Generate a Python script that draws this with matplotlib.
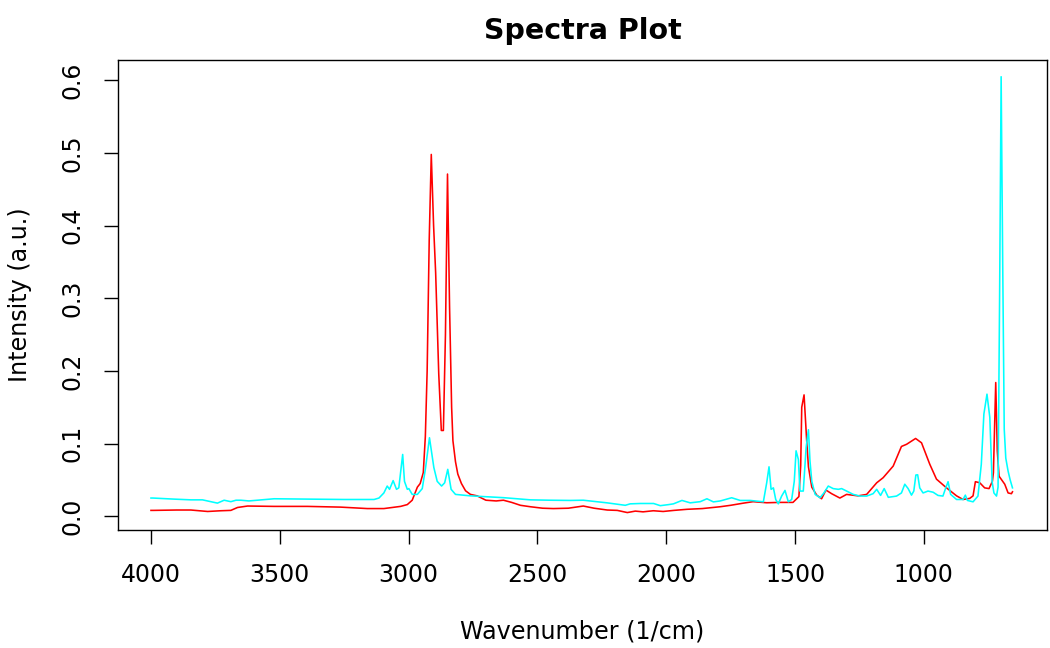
import matplotlib
matplotlib.use("Agg")
import matplotlib.pyplot as plt
import numpy as np

# Spectrum 1 (red)
red_wn = [4000, 3990, 3900, 3845, 3780, 3729, 3690, 3664, 3625, 3522, 3393, 3264, 3160, 3096,
          3031, 3005, 2986, 2966, 2955, 2943, 2935, 2928, 2920, 2912, 2903, 2895, 2883, 2873,
          2865, 2857, 2849, 2841, 2833, 2828, 2818, 2809, 2795, 2779, 2760, 2734, 2700, 2660,
          2632, 2600, 2566, 2527, 2480, 2438, 2380, 2322, 2280, 2229, 2190, 2151, 2120, 2090,
          2050, 2012, 1970, 1919, 1860, 1791, 1750, 1725, 1700, 1663, 1610, 1560, 1508, 1485,
          1478, 1474, 1465, 1455, 1448, 1435, 1416, 1397, 1380, 1358, 1326, 1300, 1255, 1222,
          1183, 1158, 1119, 1087, 1067, 1032, 1009, 977, 951, 912, 873, 848, 822, 809, 800,
          783, 764, 747, 734, 730, 721, 715, 708, 686, 673, 660, 656]
red_int = [0.008, 0.008, 0.0085, 0.0085, 0.0065, 0.0075, 0.008, 0.012, 0.014, 0.0135, 0.0135,
           0.0125, 0.0105, 0.0105, 0.0135, 0.016, 0.022, 0.040, 0.045, 0.060, 0.110, 0.200,
           0.380, 0.498, 0.400, 0.335, 0.196, 0.118, 0.118, 0.250, 0.471, 0.288, 0.150, 0.104,
           0.075, 0.058, 0.045, 0.035, 0.030, 0.028, 0.022, 0.021, 0.022, 0.019, 0.015, 0.013,
           0.011, 0.0105, 0.011, 0.014, 0.011, 0.0085, 0.008, 0.005, 0.007, 0.006, 0.0075,
           0.0065, 0.008, 0.0095, 0.0105, 0.013, 0.015, 0.0165, 0.018, 0.020, 0.0185, 0.019,
           0.019, 0.027, 0.070, 0.150, 0.167, 0.105, 0.068, 0.040, 0.029, 0.024, 0.036, 0.031,
           0.025, 0.030, 0.028, 0.030, 0.046, 0.053, 0.069, 0.096, 0.099, 0.107, 0.101, 0.0715,
           0.051, 0.039, 0.028, 0.023, 0.0245, 0.028, 0.0475, 0.046, 0.039, 0.038, 0.048, 0.060,
           0.184, 0.090, 0.055, 0.044, 0.032, 0.031, 0.0336]

# Spectrum 2 (cyan)
cyan_wn = [4000, 3993, 3910, 3845, 3800, 3780, 3742, 3716, 3690, 3670, 3651, 3620, 3587, 3522,
           3400, 3250, 3134, 3115, 3096, 3083, 3074, 3060, 3047, 3038, 3023, 3016, 3005, 2999,
           2986, 2966, 2947, 2934, 2919, 2902, 2889, 2872, 2860, 2848, 2835, 2818, 2760, 2631,
           2527, 2450, 2372, 2322, 2230, 2159, 2140, 2100, 2049, 2023, 1990, 1972, 1939, 1907,
           1868, 1842, 1817, 1790, 1746, 1713, 1674, 1623, 1610, 1601, 1593, 1584, 1575, 1565,
           1552, 1539, 1526, 1513, 1503, 1496, 1487, 1481, 1468, 1457, 1448, 1442, 1435, 1422,
           1403, 1388, 1371, 1352, 1332, 1319, 1300, 1274, 1248, 1222, 1197, 1183, 1168, 1154,
           1138, 1106, 1087, 1074, 1061, 1048, 1039, 1031, 1024, 1016, 1003, 984, 964, 945, 926,
           915, 906, 896, 873, 848, 839, 831, 809, 790, 777, 767, 755, 744, 735, 728, 718, 712,
           706, 700, 694, 688, 682, 673, 665, 656]
cyan_int = [0.025, 0.025, 0.0235, 0.0225, 0.0225, 0.021, 0.018, 0.022, 0.020, 0.022, 0.022,
            0.021, 0.022, 0.024, 0.0235, 0.023, 0.023, 0.025, 0.032, 0.0415, 0.037, 0.049,
            0.037, 0.039, 0.085, 0.048, 0.037, 0.038, 0.030, 0.030, 0.038, 0.067, 0.108, 0.067,
            0.048, 0.0415, 0.046, 0.0645, 0.037, 0.030, 0.028, 0.0255, 0.0225, 0.022, 0.0217,
            0.022, 0.0184, 0.015, 0.017, 0.0175, 0.0175, 0.0145, 0.016, 0.017, 0.0217, 0.0184,
            0.020, 0.024, 0.0197, 0.021, 0.0254, 0.0217, 0.0217, 0.0198, 0.046, 0.068, 0.037,
            0.039, 0.023, 0.017, 0.0277, 0.0355, 0.0198, 0.023, 0.048, 0.090, 0.078, 0.0346,
            0.0346, 0.0945, 0.119, 0.076, 0.048, 0.030, 0.0254, 0.032, 0.0415, 0.038, 0.037,
            0.038, 0.0346, 0.030, 0.0277, 0.0277, 0.031, 0.037, 0.0286, 0.038, 0.026, 0.0277,
            0.032, 0.044, 0.038, 0.029, 0.0346, 0.0567, 0.057, 0.039, 0.032, 0.0346, 0.033,
            0.0286, 0.0277, 0.039, 0.0475, 0.030, 0.023, 0.023, 0.029, 0.0217, 0.0198, 0.0277,
            0.0715, 0.1406, 0.168, 0.136, 0.0475, 0.032, 0.0277, 0.040, 0.300, 0.605, 0.350,
            0.120, 0.080, 0.062, 0.050, 0.039]

x_ticks = [4000, 3500, 3000, 2500, 2000, 1500, 1000]
y_ticks = [0.0, 0.1, 0.2, 0.3, 0.4, 0.5, 0.6]

W, H = 1050, 648
fig = plt.figure(figsize=(W / 100, H / 100), dpi=100)
ax = fig.add_axes([118 / W, 1 - 530 / H, (1047 - 118) / W, (530 - 60) / H])

ax.plot(red_wn, red_int, color="#FF0000", lw=1.15)
ax.plot(cyan_wn, cyan_int, color="#00FFFF", lw=1.15)

ax.set_xlim(4128, 522)
ax.set_ylim(-0.019, 0.628)
ax.set_xticks(x_ticks)
ax.set_xticklabels([str(t) for t in x_ticks])
ax.set_yticks(y_ticks)
ax.set_yticklabels([f"{t:.1f}" for t in y_ticks], rotation=90, va="center")

for s in ax.spines.values():
    s.set_linewidth(1.0)
    s.set_color("black")
ax.tick_params(axis="both", direction="out", length=10, width=1.0, labelsize=17, colors="black")
ax.tick_params(axis="x", pad=14)
ax.tick_params(axis="y", pad=14)

fig.text(582.5 / W, 1 - 31 / H, "Spectra Plot", ha="center", va="center",
         fontsize=20.5, fontweight="bold")
fig.text(582.5 / W, 1 - 631 / H, "Wavenumber (1/cm)", ha="center", va="center", fontsize=17.2)
fig.text(20 / W, 1 - 295 / H, "Intensity (a.u.)", ha="center", va="center",
         fontsize=17.2, rotation=90)

fig.savefig("out.png", dpi=100)
